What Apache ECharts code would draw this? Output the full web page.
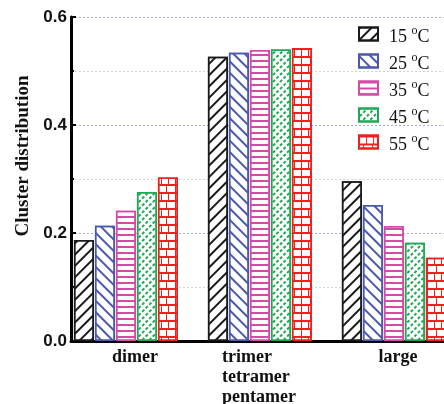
<!DOCTYPE html>
<html><head><meta charset="utf-8">
<script src="https://cdn.jsdelivr.net/npm/echarts@6/dist/echarts.min.js"></script>
<style>html,body{margin:0;padding:0;background:#fff}#c{width:444px;height:404px}</style>
</head><body><div id="c"></div>
<script>
const categories = ['dimer', 'trimer\ntetramer\npentamer', 'large'];
const temps = ['15', '25', '35', '45', '55'];
const v15 = [0.187, 0.5265, 0.296];
const v25 = [0.2135, 0.534, 0.252];
const v35 = [0.241, 0.539, 0.213];
const v45 = [0.276, 0.540, 0.182];
const v55 = [0.303, 0.5426, 0.154];
const yTicks = [0, 0.2, 0.4, 0.6];

const values = [v15, v25, v35, v45, v55];
const colors = ['#1a1a1a', '#4a58b0', '#d44aa6', '#20a854', '#ee2020'];
const decals = [
  {symbol:'rect', dashArrayX:[1,0], dashArrayY:[1.2,5.5], rotation:-Math.PI/4},
  {symbol:'rect', dashArrayX:[1,0], dashArrayY:[1.2,5.5], rotation:Math.PI/4},
  {symbol:'rect', dashArrayX:[1,0], dashArrayY:[1.5,3.5], rotation:0},
  {symbol:'rect', dashArrayX:[2.5,1.5], dashArrayY:[1.2,2.2], rotation:-Math.PI/4},
  {symbol:'rect', dashArrayX:[[1,0],[1,6],[1,0],[0,3.5,1,3.5]], dashArrayY:[1.3,0,6,0,1.3,0,6,0], rotation:0}
];

const series = values.map((vals, i) => ({
  name: temps[i],
  type: 'bar',
  barWidth: 20,
  barGap: '5%',
  data: vals.map((v, j) => [j, v]),
  itemStyle: {
    color: '#ffffff',
    borderColor: colors[i],
    borderWidth: 1.5,
    decal: Object.assign({color: colors[i]}, decals[i])
  }
}));

const lab = {fontFamily: 'Liberation Serif', fontWeight: 'bold', fontSize: 18, color: '#111', lineHeight: 20};

const chart = echarts.init(document.getElementById('c'), null, {renderer: 'canvas'});
chart.setOption({
  animation: false,
  backgroundColor: '#fff',
  grid: {left: 71, right: 0, top: 17, bottom: 63, outerBoundsMode: 'none', containLabel: false},
  legend: {
    orient: 'vertical',
    left: 353, top: 17,
    icon: 'rect',
    itemWidth: 19, itemHeight: 13,
    itemGap: 3,
    data: temps,
    formatter: n => '{g|}{n|' + n + ' }{s|o}{n|C}',
    textStyle: {
      rich: {
        g: {width: 6, lineHeight: 18},
        n: {fontFamily: 'Liberation Serif', fontSize: 18, color: '#111', lineHeight: 18, padding: [6,0,0,0]},
        s: {fontFamily: 'Liberation Serif', fontSize: 12, color: '#111', verticalAlign: 'top', lineHeight: 11}
      }
    }
  },
  xAxis: {
    type: 'value',
    min: -0.41,
    max: 2.374,
    splitLine: {show: false},
    axisLine: {show: true, onZero: false, lineStyle: {color: '#000', width: 3}},
    axisTick: {show: false},
    axisLabel: {
      customValues: [0, 1, 2],
      formatter: v => {
        const i = Math.round(v);
        const c = categories[i] || '';
        if (c.indexOf('\n') >= 0) return c.split('\n').map(s => '{l|' + s + '}').join('\n');
        return (i === 0 ? '{d|' : '{e|') + c + '}';
      },
      color: '#111',
      fontFamily: 'Liberation Serif',
      fontWeight: 'bold',
      fontSize: 18,
      lineHeight: 20,
      margin: 6,
      verticalAlign: 'top',
      rich: {
        l: Object.assign({width: 76, align: 'left'}, lab),
        d: Object.assign({padding: [0,0,0,18]}, lab),
        e: Object.assign({padding: [0,0,0,8]}, lab)
      }
    }
  },
  yAxis: {
    type: 'value',
    min: 0, max: 0.6, interval: 0.2,
    name: 'Cluster distribution',
    nameLocation: 'middle',
    nameGap: 38,
    nameTextStyle: {fontFamily: 'Liberation Serif', fontWeight: 'bold', fontSize: 19, color: '#111', padding: [0,0,0,46]},
    axisLine: {show: true, onZero: false, lineStyle: {color: '#000', width: 3}},
    axisTick: {show: true, inside: true, length: 5, lineStyle: {color: '#000', width: 2}},
    minorTick: {show: true, splitNumber: 2, length: 3, lineStyle: {color: '#000', width: 2}},
    axisLabel: {
      customValues: yTicks,
      formatter: v => v.toFixed(1),
      fontFamily: 'Liberation Sans', fontWeight: 'bold', fontSize: 17, color: '#111', margin: 4
    },
    splitLine: {show: true, lineStyle: {color: '#a8a8e0', type: [2,2], width: 1}},
    minorSplitLine: {show: true, lineStyle: {color: '#d4d4d4', type: [2,2], width: 1}}
  },
  series: series
});
</script></body></html>
